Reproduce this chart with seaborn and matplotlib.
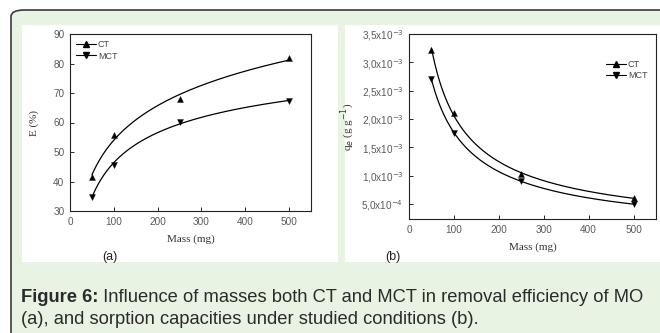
import numpy as np
import pandas as pd
import matplotlib
matplotlib.use("Agg")
import matplotlib.pyplot as plt
from matplotlib.patches import FancyBboxPatch, Rectangle
from matplotlib.lines import Line2D
from matplotlib.text import Annotation
from matplotlib.ticker import FuncFormatter, MultipleLocator
import seaborn as sns

sns.set_style("ticks")
plt.rcParams['font.family'] = ['Liberation Sans', 'DejaVu Sans']

# ==============================================================================
# DATA
# ==============================================================================
mass = [50, 100, 250, 500]

# (a) removal efficiency E (%)
eff_ct = [41.6, 55.6, 67.9, 81.8]
eff_mct = [34.9, 45.7, 60.2, 67.2]

# (b) sorption capacity qe (g g-1)
q_ct = [3.22e-3, 2.11e-3, 1.03e-3, 6.1e-4]
q_mct = [2.71e-3, 1.75e-3, 9.1e-4, 5.0e-4]

series_names = ['CT', 'MCT']
series_markers = ['^', 'v']

df_a = pd.DataFrame({'mass': mass * 2, 'val': eff_ct + eff_mct,
                     'series': ['CT'] * 4 + ['MCT'] * 4})
df_b = pd.DataFrame({'mass': mass * 2, 'val': q_ct + q_mct,
                     'series': ['CT'] * 4 + ['MCT'] * 4})

# ==============================================================================
# FIGURE + BACKGROUND PANELS
# ==============================================================================
W, H = 660, 333
fig = plt.figure(figsize=(W / 100, H / 100), dpi=100)
fig.patch.set_facecolor('white')


def px(x0, y0, x1, y1):
    # pixel box (top-left origin) -> figure fraction rect
    return x0 / W, 1 - y1 / H, (x1 - x0) / W, (y1 - y0) / H


bx = px(11, 10, 700, 360)
fig.patches.append(FancyBboxPatch((bx[0], bx[1]), bx[2], bx[3],
                                  boxstyle="round,pad=0,rounding_size=0.02",
                                  transform=fig.transFigure, facecolor='#e8f3e4',
                                  edgecolor='#3a3a3a', linewidth=1.2, zorder=-2))
for box in [(22, 25, 338, 262), (345, 25, 680, 262)]:
    r = px(*box)
    fig.patches.append(Rectangle((r[0], r[1]), r[2], r[3], transform=fig.transFigure,
                                 facecolor='white', edgecolor='none', zorder=-1))

ax_a = fig.add_axes(px(70, 34, 311, 211))
ax_b = fig.add_axes(px(409, 34, 656, 219))

label_font = dict(family='Liberation Serif', fontsize=8, color='#333333')


def smooth_line(ax, x, y, loglog):
    # smoothed connecting curve (quadratic in log mass), like the Origin plot
    lx = np.log(np.asarray(x, float))
    ly = np.log(np.asarray(y, float)) if loglog else np.asarray(y, float)
    coef = np.polyfit(lx, ly, 2)
    xs = np.linspace(min(x), max(x), 200)
    ys = np.polyval(coef, np.log(xs))
    if loglog:
        ys = np.exp(ys)
    sns.lineplot(x=xs, y=ys, ax=ax, color='black', linewidth=0.9)


for ax, df, loglog in [(ax_a, df_a, False), (ax_b, df_b, True)]:
    for name, mk in zip(series_names, series_markers):
        sub = df[df['series'] == name]
        smooth_line(ax, sub['mass'].tolist(), sub['val'].tolist(), loglog)
        sns.scatterplot(data=sub, x='mass', y='val', ax=ax, marker=mk, s=18,
                        color='black', edgecolor='black', linewidth=0.3, zorder=3)
    for s in ax.spines.values():
        s.set_linewidth(0.8)
        s.set_color('#222222')
    ax.tick_params(direction='in', length=3, width=0.7, labelsize=7.2,
                   labelcolor='#5a5a5a', pad=4)
    ax.set_xlim(0, 550)
    ax.xaxis.set_major_locator(MultipleLocator(100))
    ax.set_xlabel('Mass (mg)', **label_font, labelpad=6)

ax_a.set_ylim(30, 90)
ax_a.yaxis.set_major_locator(MultipleLocator(10))
ax_a.set_ylabel('E (%)', **label_font, labelpad=10)

ax_b.set_ylim(2.4e-4, 3.5e-3)
ax_b.set_yticks([5e-4, 1e-3, 1.5e-3, 2e-3, 2.5e-3, 3e-3, 3.5e-3])


def sci_comma(v, pos):
    e = int(np.floor(np.log10(v) + 1e-9))
    m = v / 10 ** e
    return f"{m:.1f}".replace('.', ',') + r"x10$^{" + str(e) + "}$"


ax_b.yaxis.set_major_formatter(FuncFormatter(sci_comma))
ax_b.set_ylabel(r'q$_e$ (g g$^{-1}$)', **label_font, labelpad=3)

legend_handles = [Line2D([], [], color='black', linewidth=0.8, marker=m, markersize=4)
                  for m in series_markers]
ax_a.legend(legend_handles, series_names, loc='upper left', frameon=False, fontsize=6.5,
            handlelength=2.2, handletextpad=0.2, labelspacing=0.25,
            borderaxespad=0.3, labelcolor='#444444')
ax_b.legend(legend_handles, series_names, loc='upper right', frameon=False, fontsize=6.5,
            handlelength=2.2, handletextpad=0.2, labelspacing=0.25,
            bbox_to_anchor=(0.98, 0.88), borderaxespad=0, labelcolor='#444444')

fig.text(110 / W, 1 - 257 / H, '(a)', fontsize=9, ha='center', va='center', color='#222222')
fig.text(393 / W, 1 - 257 / H, '(b)', fontsize=9, ha='center', va='center', color='#222222')

# caption
cap_font = ['Liberation Sans', 'DejaVu Sans']
t1 = fig.text(21 / W, 1 - 298 / H, 'Figure 6:', fontsize=13.2, fontweight='bold',
              family=cap_font, color='#2b2b2b', va='center')
a2 = Annotation(' Influence of masses both CT and MCT in removal efficiency of MO',
                xy=(1, 0.5), xycoords=t1, va='center', ha='left', fontsize=13.2,
                family=cap_font, color='#2b2b2b')
fig.add_artist(a2)
fig.text(21 / W, 1 - 320 / H, '(a), and sorption capacities under studied conditions (b).',
         fontsize=13.2, family=cap_font, color='#2b2b2b', va='center')

fig.savefig('out.png', dpi=100)
